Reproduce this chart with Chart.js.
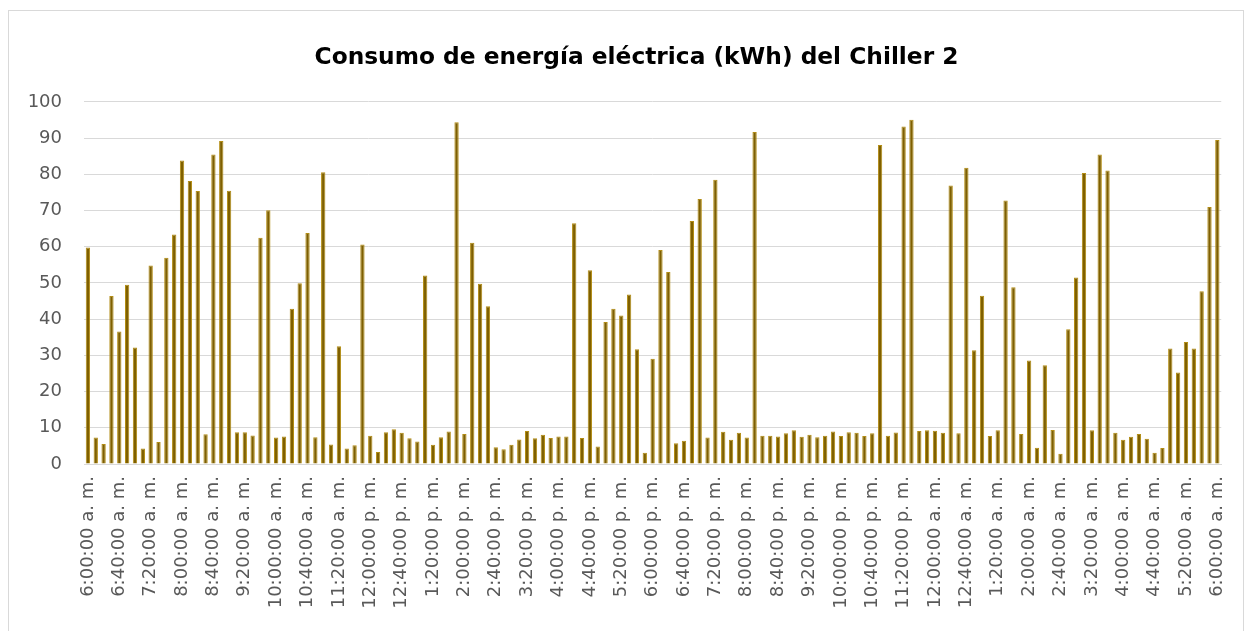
<!DOCTYPE html>
<html>
<head>
<meta charset="utf-8">
<script src="https://cdn.jsdelivr.net/npm/chart.js@4.4.1/dist/chart.umd.min.js"></script>
<style>
  html, body { margin: 0; padding: 0; background: #ffffff; }
  #wrap { position: relative; width: 1251px; height: 631px; overflow: hidden; }
  #frame { position: absolute; left: 8px; top: 10px; width: 1234px; height: 660px; border: 1px solid #d9d9d9; pointer-events: none; }
  canvas { position: absolute; left: 0; top: 0; }
</style>
</head>
<body>
<div id="wrap">
  <canvas id="c" width="1251" height="631"></canvas>
  <div id="frame"></div>
</div>
<script>
const chartTitle = "Consumo de energía eléctrica (kWh) del Chiller 2";

const categories = [
  "6:00:00 a. m.","6:10:00 a. m.","6:20:00 a. m.","6:30:00 a. m.","6:40:00 a. m.","6:50:00 a. m.",
  "7:00:00 a. m.","7:10:00 a. m.","7:20:00 a. m.","7:30:00 a. m.","7:40:00 a. m.","7:50:00 a. m.",
  "8:00:00 a. m.","8:10:00 a. m.","8:20:00 a. m.","8:30:00 a. m.","8:40:00 a. m.","8:50:00 a. m.",
  "9:00:00 a. m.","9:10:00 a. m.","9:20:00 a. m.","9:30:00 a. m.","9:40:00 a. m.","9:50:00 a. m.",
  "10:00:00 a. m.","10:10:00 a. m.","10:20:00 a. m.","10:30:00 a. m.","10:40:00 a. m.","10:50:00 a. m.",
  "11:00:00 a. m.","11:10:00 a. m.","11:20:00 a. m.","11:30:00 a. m.","11:40:00 a. m.","11:50:00 a. m.",
  "12:00:00 p. m.","12:10:00 p. m.","12:20:00 p. m.","12:30:00 p. m.","12:40:00 p. m.","12:50:00 p. m.",
  "1:00:00 p. m.","1:10:00 p. m.","1:20:00 p. m.","1:30:00 p. m.","1:40:00 p. m.","1:50:00 p. m.",
  "2:00:00 p. m.","2:10:00 p. m.","2:20:00 p. m.","2:30:00 p. m.","2:40:00 p. m.","2:50:00 p. m.",
  "3:00:00 p. m.","3:10:00 p. m.","3:20:00 p. m.","3:30:00 p. m.","3:40:00 p. m.","3:50:00 p. m.",
  "4:00:00 p. m.","4:10:00 p. m.","4:20:00 p. m.","4:30:00 p. m.","4:40:00 p. m.","4:50:00 p. m.",
  "5:00:00 p. m.","5:10:00 p. m.","5:20:00 p. m.","5:30:00 p. m.","5:40:00 p. m.","5:50:00 p. m.",
  "6:00:00 p. m.","6:10:00 p. m.","6:20:00 p. m.","6:30:00 p. m.","6:40:00 p. m.","6:50:00 p. m.",
  "7:00:00 p. m.","7:10:00 p. m.","7:20:00 p. m.","7:30:00 p. m.","7:40:00 p. m.","7:50:00 p. m.",
  "8:00:00 p. m.","8:10:00 p. m.","8:20:00 p. m.","8:30:00 p. m.","8:40:00 p. m.","8:50:00 p. m.",
  "9:00:00 p. m.","9:10:00 p. m.","9:20:00 p. m.","9:30:00 p. m.","9:40:00 p. m.","9:50:00 p. m.",
  "10:00:00 p. m.","10:10:00 p. m.","10:20:00 p. m.","10:30:00 p. m.","10:40:00 p. m.","10:50:00 p. m.",
  "11:00:00 p. m.","11:10:00 p. m.","11:20:00 p. m.","11:30:00 p. m.","11:40:00 p. m.","11:50:00 p. m.",
  "12:00:00 a. m.","12:10:00 a. m.","12:20:00 a. m.","12:30:00 a. m.","12:40:00 a. m.","12:50:00 a. m.",
  "1:00:00 a. m.","1:10:00 a. m.","1:20:00 a. m.","1:30:00 a. m.","1:40:00 a. m.","1:50:00 a. m.",
  "2:00:00 a. m.","2:10:00 a. m.","2:20:00 a. m.","2:30:00 a. m.","2:40:00 a. m.","2:50:00 a. m.",
  "3:00:00 a. m.","3:10:00 a. m.","3:20:00 a. m.","3:30:00 a. m.","3:40:00 a. m.","3:50:00 a. m.",
  "4:00:00 a. m.","4:10:00 a. m.","4:20:00 a. m.","4:30:00 a. m.","4:40:00 a. m.","4:50:00 a. m.",
  "5:00:00 a. m.","5:10:00 a. m.","5:20:00 a. m.","5:30:00 a. m.","5:40:00 a. m.","5:50:00 a. m.",
  "6:00:00 a. m."
];

const tickLabels = [
  "6:00:00 a. m.","6:40:00 a. m.","7:20:00 a. m.","8:00:00 a. m.","8:40:00 a. m.","9:20:00 a. m.",
  "10:00:00 a. m.","10:40:00 a. m.","11:20:00 a. m.","12:00:00 p. m.","12:40:00 p. m.","1:20:00 p. m.",
  "2:00:00 p. m.","2:40:00 p. m.","3:20:00 p. m.","4:00:00 p. m.","4:40:00 p. m.","5:20:00 p. m.",
  "6:00:00 p. m.","6:40:00 p. m.","7:20:00 p. m.","8:00:00 p. m.","8:40:00 p. m.","9:20:00 p. m.",
  "10:00:00 p. m.","10:40:00 p. m.","11:20:00 p. m.","12:00:00 a. m.","12:40:00 a. m.","1:20:00 a. m.",
  "2:00:00 a. m.","2:40:00 a. m.","3:20:00 a. m.","4:00:00 a. m.","4:40:00 a. m.","5:20:00 a. m.",
  "6:00:00 a. m."
];

const consumo = [
  59.8, 7.3, 5.5, 46.4, 36.6, 49.5, 32.2, 4.3, 54.8, 6.1,
  57.0, 63.4, 83.8, 78.2, 75.4, 8.2, 85.5, 89.2, 75.5, 8.8,
  8.8, 7.9, 62.5, 70.1, 7.3, 7.6, 42.9, 49.9, 63.8, 7.4,
  80.6, 5.4, 32.5, 4.3, 5.2, 60.6, 7.8, 3.3, 8.8, 9.6,
  8.6, 7.1, 6.2, 52.1, 5.3, 7.4, 9.0, 94.4, 8.3, 61.1,
  49.8, 43.6, 4.6, 4.1, 5.3, 6.8, 9.1, 7.1, 8.1, 7.2,
  7.6, 7.6, 66.5, 7.2, 53.5, 4.8, 39.2, 42.9, 41.0, 46.8,
  31.7, 3.1, 29.1, 59.1, 53.0, 5.7, 6.4, 67.1, 73.2, 7.3,
  78.5, 8.9, 6.7, 8.6, 7.3, 91.7, 7.8, 7.8, 7.6, 8.5,
  9.3, 7.5, 8.1, 7.4, 7.8, 9.0, 7.7, 8.8, 8.6, 7.7,
  8.5, 88.1, 7.8, 8.7, 93.2, 95.1, 9.1, 9.3, 9.2, 8.6,
  76.9, 8.5, 81.8, 31.4, 46.5, 7.7, 9.3, 72.8, 48.8, 8.3,
  28.6, 4.5, 27.3, 9.4, 2.8, 37.2, 51.5, 80.4, 9.3, 85.5,
  81.1, 8.6, 6.7, 7.5, 8.3, 7.0, 3.1, 4.4, 31.9, 25.3,
  33.7, 31.9, 47.7, 71.0, 89.5
];

const tickSet = new Set(tickLabels);
const tickFont = { family: "DejaVu Sans", size: 18 };

const shiftTitle = {
  id: 'shiftTitle',
  afterLayout(chart) {
    const t = chart.titleBlock;
    if (t) { t.left += 15; t.right += 15; }
  }
};

new Chart(document.getElementById('c'), {
  type: 'bar',
  data: {
    labels: categories,
    datasets: [{
      label: 'Consumo (kWh)',
      data: consumo,
      backgroundColor: '#7F6000',
      borderColor: '#B38D14',
      borderWidth: 1,
      borderSkipped: 'bottom',
      categoryPercentage: 1.0,
      barPercentage: 0.55
    }]
  },
  plugins: [shiftTitle],
  options: {
    responsive: false,
    animation: false,
    layout: { padding: { left: 10, right: 18, top: 0, bottom: 0 } },
    plugins: {
      legend: { display: false },
      tooltip: { enabled: false },
      title: {
        display: true,
        text: chartTitle,
        color: '#000000',
        font: { family: "DejaVu Sans", size: 23.3, weight: 'bold', lineHeight: 1.2 },
        padding: { top: 44, bottom: 30 }
      }
    },
    scales: {
      x: {
        offset: true,
        grid: { display: false, drawTicks: false },
        border: { display: true, color: '#d9d9d9' },
        ticks: {
          autoSkip: false,
          minRotation: 90,
          maxRotation: 90,
          padding: 12,
          color: '#595959',
          font: tickFont,
          callback: function (v, i) {
            const lab = categories[i];
            return (i % 4 === 0 && tickSet.has(lab)) ? lab : null;
          }
        },
        afterFit: function (s) { s.height = 167; }
      },
      y: {
        min: 0,
        max: 100,
        ticks: { stepSize: 10, padding: 22, color: '#595959', font: tickFont },
        grid: { color: '#d9d9d9', lineWidth: 1, drawTicks: false },
        border: { display: false },
        afterFit: function (s) { s.width = 74; }
      }
    }
  }
});
</script>
</body>
</html>
